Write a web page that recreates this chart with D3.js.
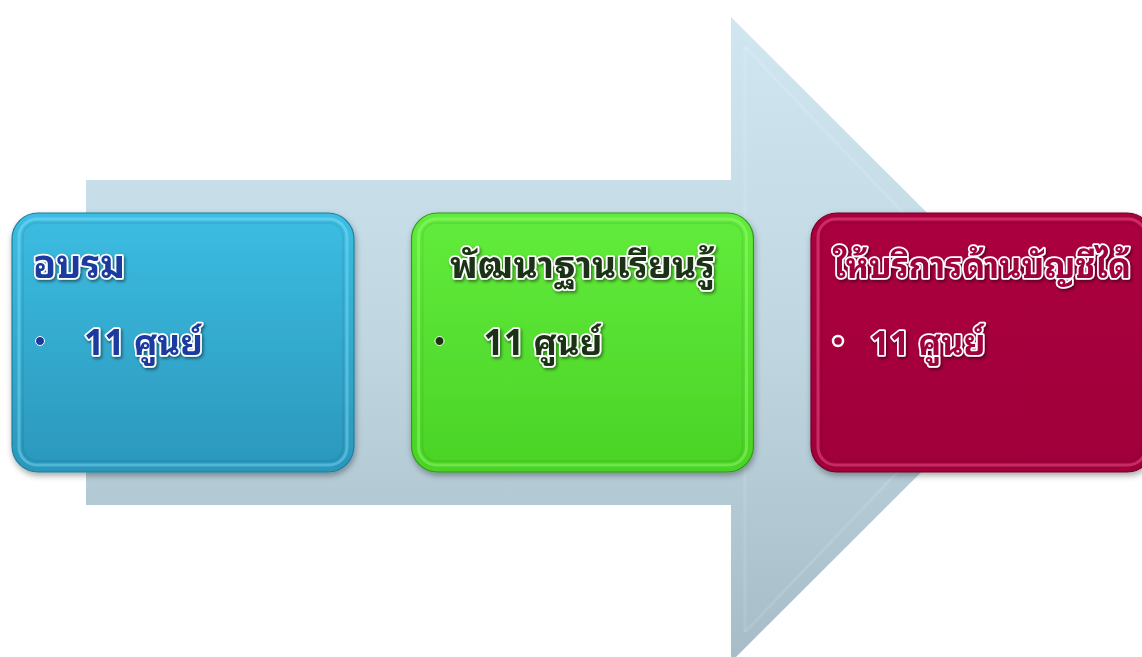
<!DOCTYPE html>
<html>
<head>
<meta charset="utf-8">
<script src="https://cdn.jsdelivr.net/npm/d3@7"></script>
<style>
  html, body { margin: 0; padding: 0; background: #fff; overflow: hidden; }
  svg { display: block; }
  text { font-family: "Noto Sans Thai Looped", "Noto Sans Thai", Loma, Garuda, "Noto Sans", sans-serif; font-weight: bold; }
</style>
</head>
<body>
<svg id="chart" width="1142" height="657"></svg>
<script>
// data
const stages = ["อบรม", "พัฒนาฐานเรียนรู้", "ให้บริการด้านบัญชีได้"];
const counts = [11, 11, 11];
const unit = "ศูนย์";

const palette = [
  { top: "#3cbde2", bottom: "#2b97bb", rim: "#8fe6ff", ink: "#1b3a9e", edge: "#1d7f9f" },
  { top: "#62ec3c", bottom: "#4ad326", rim: "#a6ff80", ink: "#1b3312", edge: "#2f9a16" },
  { top: "#ab063f", bottom: "#a0003a", rim: "#ff6f9c", ink: "#a0003a", edge: "#6e0026" }
];

const width = 1142, height = 657;
const svg = d3.select("#chart");
const defs = svg.append("defs");

// arrow gradient
const ag = defs.append("linearGradient").attr("id", "arrowGrad")
  .attr("x1", 0).attr("y1", 0).attr("x2", 0).attr("y2", 1);
ag.append("stop").attr("offset", "0%").attr("stop-color", "#d0e7f2");
ag.append("stop").attr("offset", "50%").attr("stop-color", "#c0d7e2");
ag.append("stop").attr("offset", "100%").attr("stop-color", "#a6bcc7");

palette.forEach((p, i) => {
  const g = defs.append("linearGradient").attr("id", "boxGrad" + i)
    .attr("x1", 0).attr("y1", 0).attr("x2", 0).attr("y2", 1);
  g.append("stop").attr("offset", "0%").attr("stop-color", p.top);
  g.append("stop").attr("offset", "100%").attr("stop-color", p.bottom);
});

const shadow = defs.append("filter").attr("id", "boxShadow")
  .attr("x", "-10%").attr("y", "-10%").attr("width", "120%").attr("height", "125%");
shadow.append("feDropShadow").attr("dx", 1).attr("dy", 3).attr("stdDeviation", 3)
  .attr("flood-color", "#000").attr("flood-opacity", 0.35);

const txtShadow = defs.append("filter").attr("id", "txtShadow")
  .attr("x", "-10%").attr("y", "-20%").attr("width", "120%").attr("height", "150%");
txtShadow.append("feDropShadow").attr("dx", 1.5).attr("dy", 2).attr("stdDeviation", 1.5)
  .attr("flood-color", "#000").attr("flood-opacity", 0.45);

// big background arrow
const ax = d3.scaleLinear().domain([0, 1]).range([86, 1054]);
const ay = d3.scaleLinear().domain([0, 1]).range([17, 662]);
const neck = 731, shaftTop = 180, shaftBot = 505;
const arrowPts = [
  [ax(0), shaftTop], [neck, shaftTop], [neck, ay(0)],
  [ax(1), (ay(0) + ay(1)) / 2],
  [neck, ay(1)], [neck, shaftBot], [ax(0), shaftBot]
];
svg.append("path")
  .attr("d", d3.line()(arrowPts) + "Z")
  .attr("fill", "url(#arrowGrad)");
// subtle bevel on arrow head
svg.append("path")
  .attr("d", d3.line()([[neck + 14, ay(0) + 30], [ax(1) - 30, (ay(0) + ay(1)) / 2], [neck + 14, ay(1) - 30]]))
  .attr("fill", "none").attr("stroke", "#fff").attr("stroke-opacity", 0.12).attr("stroke-width", 3);
svg.append("line")
  .attr("x1", neck + 14).attr("x2", neck + 14).attr("y1", ay(0) + 30).attr("y2", ay(1) - 30)
  .attr("stroke", "#fff").attr("stroke-opacity", 0.1).attr("stroke-width", 3);

// boxes
const x = d3.scaleBand().domain(stages).range([12, 1153]).paddingInner(0.144).paddingOuter(0);
const boxTop = 213, boxH = 259, r = 26;

const box = svg.selectAll("g.stage")
  .data(stages.map((s, i) => ({ title: s, count: counts[i], i })))
  .join("g")
  .attr("class", "stage")
  .attr("transform", d => `translate(${x(d.title)},${boxTop})`);

box.append("rect")
  .attr("width", x.bandwidth()).attr("height", boxH).attr("rx", r)
  .attr("fill", d => `url(#boxGrad${d.i})`)
  .attr("stroke", d => palette[d.i].edge).attr("stroke-width", 1.2)
  .attr("filter", "url(#boxShadow)");

// glossy inner rim
box.append("rect")
  .attr("x", 7).attr("y", 6)
  .attr("width", x.bandwidth() - 14).attr("height", boxH - 13).attr("rx", r - 8)
  .attr("fill", "none")
  .attr("stroke", d => palette[d.i].rim).attr("stroke-width", 3).attr("stroke-opacity", 0.4);
box.append("rect")
  .attr("x", 11).attr("y", 10)
  .attr("width", x.bandwidth() - 22).attr("height", boxH - 21).attr("rx", r - 12)
  .attr("fill", "none")
  .attr("stroke", "#000").attr("stroke-width", 2).attr("stroke-opacity", 0.06);

const outlined = sel => sel
  .attr("fill", d => palette[d.i].ink)
  .attr("stroke", "#fff").attr("stroke-width", 3.5).attr("stroke-linejoin", "round")
  .attr("paint-order", "stroke")
  .attr("filter", "url(#txtShadow)");

// titles: font size fitted to the width seen in the reference,
// the last one is wider than its box, so it is kept inside the page
const titleW = [92, 265, 298];
box.append("text")
  .attr("x", d => d.i === 0 ? 21 : x.bandwidth() / 2)
  .attr("y", 278 - boxTop)
  .attr("text-anchor", d => d.i === 0 ? "start" : "middle")
  .attr("font-size", 36)
  .text(d => d.title)
  .call(outlined)
  .each(function (d) {
    const w = this.getComputedTextLength();
    d3.select(this).attr("font-size", Math.min(40, 36 * titleW[d.i] / w));
  });

// bullets
box.append("circle")
  .attr("cx", d => d.i === 2 ? 27 : 28)
  .attr("cy", 341 - boxTop)
  .attr("r", d => d.i === 2 ? 5 : 4.5)
  .attr("fill", d => d.i === 2 ? "none" : palette[d.i].ink)
  .attr("stroke", "#fff")
  .attr("stroke-width", d => d.i === 2 ? 2.5 : 1);

box.append("text")
  .attr("x", d => d.i === 2 ? 59 : 72)
  .attr("y", 355 - boxTop)
  .attr("font-size", d => d.i === 2 ? 34 : 35)
  .text(d => `${d.count} ${unit}`)
  .call(outlined);
</script>
</body>
</html>
